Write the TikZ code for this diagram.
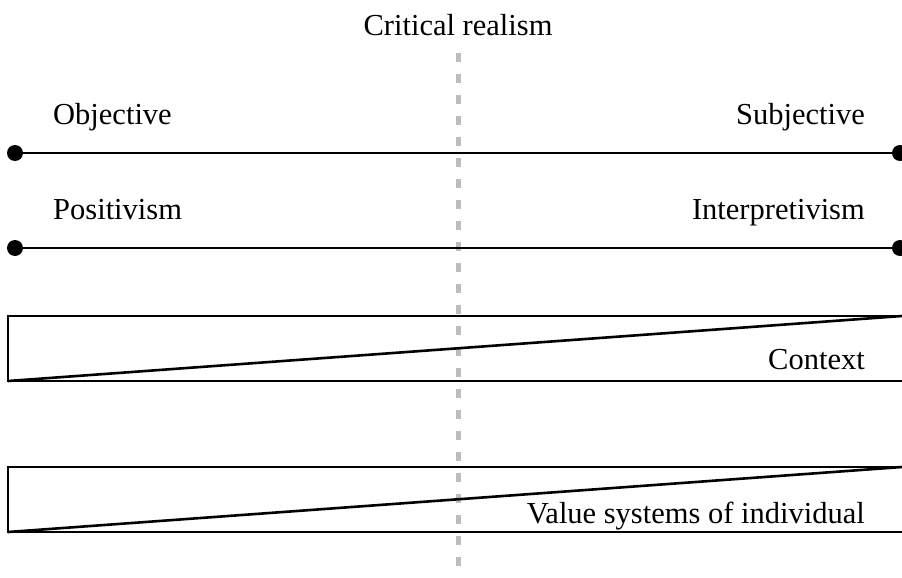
\documentclass[tikz,border=0pt]{standalone}
\usepackage{fontspec}
\setmainfont{Liberation Serif}
\tikzset{
  dotnode/.style={circle,fill=black,inner sep=0pt,minimum size=16pt},
  axisline/.style={line width=2.8pt},
  wedgebox/.style={line width=2.6pt},
  lbl/.style={inner sep=0pt,font=\fontsize{30.5}{36}\selectfont},
  realism/.style={line width=5pt,color=black!26,dash pattern=on 9pt off 12pt}
}
\begin{document}
\begin{tikzpicture}[x=1pt,y=-1pt]
\useasboundingbox (0,0) rectangle (902,578);
\clip (0,0) rectangle (902,578);
% critical realism
\node[lbl,anchor=base] (cr) at (458,36) {Critical realism};
\coordinate (d1) at (458,53);
\coordinate (d2) at (458,580);
\draw[realism] (d1) -- (d2);
% top axis
\node[dotnode] (o1) at (15,153) {};
\node[dotnode] (s1) at (900,153) {};
\draw[axisline] (o1) -- (s1);
\node[lbl,anchor=base west] (obj) at (53,124) {Objective};
\node[lbl,anchor=base east] (subj) at (865,124) {Subjective};
% second axis
\node[dotnode] (o2) at (15,248) {};
\node[dotnode] (s2) at (900,248) {};
\draw[axisline] (o2) -- (s2);
\node[lbl,anchor=base west] (pos) at (53,219) {Positivism};
\node[lbl,anchor=base east] (intp) at (865,219) {Interpretivism};
% context box
\coordinate (c1) at (8,316);
\coordinate (c2) at (912,381);
\coordinate (c3) at (8,381);
\coordinate (c4) at (902,316);
\draw[wedgebox] (c1) rectangle (c2);
\draw[wedgebox] (c3) -- (c4);
\node[lbl,anchor=base east] (ctx) at (865,369) {Context};
% value systems box
\coordinate (v1) at (8,467);
\coordinate (v2) at (912,532);
\coordinate (v3) at (8,532);
\coordinate (v4) at (902,467);
\draw[wedgebox] (v1) rectangle (v2);
\draw[wedgebox] (v3) -- (v4);
\node[lbl,anchor=base east] (val) at (865,523) {Value systems of individual};
\end{tikzpicture}
\end{document}
